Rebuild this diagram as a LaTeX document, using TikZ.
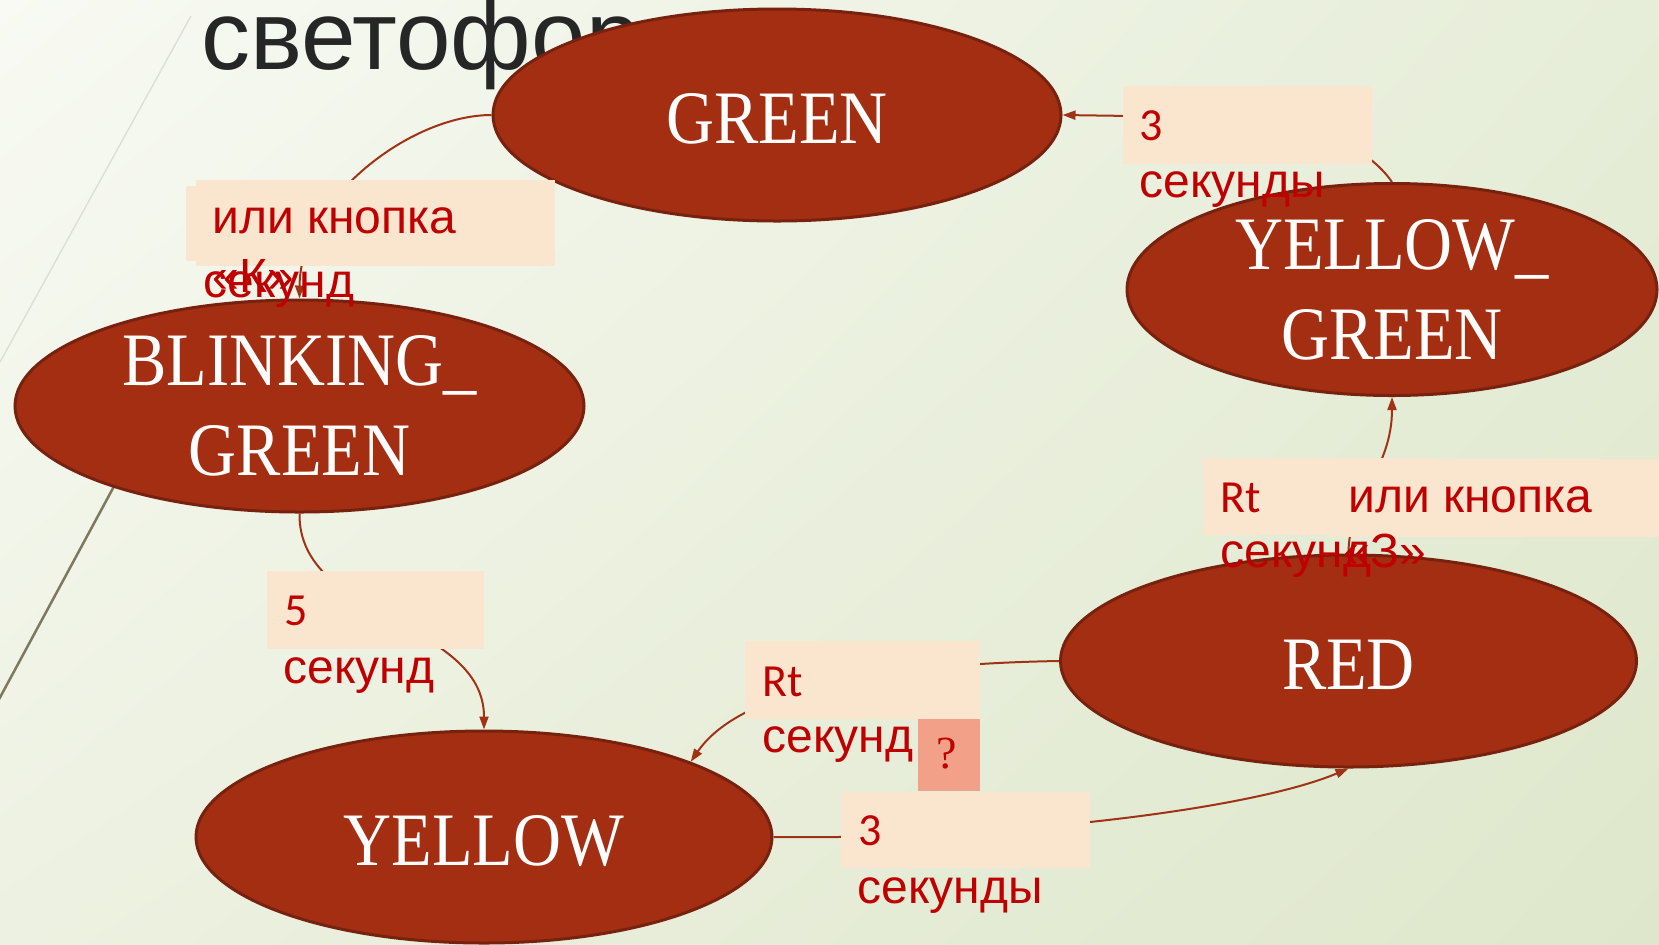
\documentclass[tikz,border=0pt]{standalone}
\usepackage{fontspec}
\setmainfont{Liberation Sans}
\newfontfamily\cyrfont{Liberation Sans}
\newfontfamily\latfont{Carlito}
\newfontfamily\statefont[FakeStretch=0.88]{Liberation Serif}
\newfontfamily\qfont{Liberation Serif}
\usetikzlibrary{arrows.meta,shapes.geometric,shadings}

\definecolor{bgUL}{RGB}{248,250,243}
\definecolor{bgUR}{RGB}{230,237,216}
\definecolor{bgLL}{RGB}{237,241,225}
\definecolor{bgLR}{RGB}{222,231,203}
\definecolor{statefill}{RGB}{164,46,17}
\definecolor{stateedge}{RGB}{118,34,14}
\definecolor{conncol}{RGB}{160,50,22}
\definecolor{lblfill}{RGB}{250,230,207}
\definecolor{qfill}{RGB}{243,160,137}
\definecolor{lbltext}{RGB}{192,0,0}
\definecolor{titlecol}{RGB}{38,38,38}
\definecolor{arcA}{RGB}{222,223,212}
\definecolor{arcB}{RGB}{125,120,96}

\tikzset{
  state/.style={ellipse, draw=stateedge, line width=1.5pt, fill=statefill,
    text=white, inner sep=0pt, align=center,
    font=\statefont\fontsize{37.75}{45}\selectfont},
  oneline/.style={text height=28pt, text depth=0pt},
  conn/.style={draw=conncol, line width=1pt,
    -{Triangle[length=6.5pt,width=4.5pt]}},
  lbox/.style={rectangle, fill=lblfill, inner sep=0pt, outer sep=0pt,
    anchor=north west},
  qbox/.style={lbox, fill=qfill},
  lt/.style={anchor=base west, inner sep=0pt, text=lbltext},
  cyr/.style={lt, font=\cyrfont\fontsize{24}{28}\selectfont},
  lat/.style={lt, font=\latfont\fontsize{23}{28}\selectfont},
}

\begin{document}
\begin{tikzpicture}[x=0.5pt,y=-0.5pt]
% page background
\useasboundingbox (0,0) rectangle (1659,944);
\shade[upper left=bgUL, upper right=bgUR, lower left=bgLL, lower right=bgLR]
  (0,0) rectangle (1659,944);

% decorative sweeps on the left
\draw[arcA, line width=0.7pt] (191,16) -- (0,362);
\draw[arcB, line width=1.25pt] (166,390) -- (-3,703);

% heading
\node[anchor=base west, inner sep=0pt, text=titlecol,
  font=\cyrfont\fontsize{49}{55}\selectfont] (title) at (201,69) {светофор};

% states
\node[state, oneline, minimum width=284pt, minimum height=106pt] (green) at (777,115) {GREEN};
\node[state, minimum width=265pt, minimum height=106pt] (yg) at (1392,289.5) {YELLOW\_\\GREEN};
\node[state, minimum width=284.5pt, minimum height=106pt] (bg) at (299.5,406) {BLINKING\_\\GREEN};
\node[state, oneline, minimum width=288pt, minimum height=106pt] (red) at (1348.5,661) {RED};
\node[state, oneline, minimum width=288pt, minimum height=106pt] (yellow) at (484,837) {YELLOW};

% transitions
\draw[conn] (green.west) .. controls (410,115) and (300,200) .. (bg.north);
\draw[conn] (yg.north) .. controls (1380,165) and (1340,117) .. (1200,117) -- (green.east);
\draw[conn] (red.north) .. controls (1348,500) and (1392,470) .. (yg.south);
\draw[conn] (bg.south) .. controls (298,620) and (484,620) .. (yellow.north);
\draw[conn] (red.west) .. controls (880,664) and (740,690) .. (yellow.20);
\draw[conn] (yellow.east) .. controls (1000,840) and (1250,810) .. (red.south);

% label backgrounds
\node[lbox, minimum width=167pt, minimum height=37.5pt] (boxAback) at (186,186) {};
\node[lbox, minimum width=179.5pt, minimum height=43pt] (boxA) at (196,180) {};
\node[lbox, minimum width=124.5pt, minimum height=39pt] (boxB) at (1123,86) {};
\node[lbox, minimum width=117pt, minimum height=38.5pt] (boxC1) at (1203,458) {};
\node[lbox, minimum width=165pt, minimum height=39pt] (boxC2) at (1331,459) {};
\node[lbox, minimum width=108.5pt, minimum height=39pt] (boxD) at (267,571) {};
\node[lbox, minimum width=117.5pt, minimum height=39pt] (boxE) at (745,641) {};
\node[qbox, minimum width=31pt, minimum height=36pt] (boxQ) at (918,719) {};
\node[lbox, minimum width=124.5pt, minimum height=38pt] (boxF) at (841,792) {};

% label texts
\node[cyr] (tA1) at (212,233) {или кнопка};
\node[cyr] (tA2) at (203,297) {секунд};
\node[cyr] (tA3) at (212,292) {«К»};

\node[lat] (tB1) at (1139,140) {3};
\node[cyr] (tB2) at (1139,197) {секунды};

\node[lat] (tC1) at (1220,512) {Rt};
\node[cyr] (tC2) at (1348,512) {или кнопка};
\node[cyr] (tC3) at (1220,567) {секунд};
\node[cyr] (tC4) at (1343,567) {«З»};

\node[lat] (tD1) at (284,625) {5};
\node[cyr] (tD2) at (283,683) {секунд};

\node[lat] (tE1) at (762,696) {Rt};
\node[cyr] (tE2) at (762,752) {секунд};

\node[anchor=base, inner sep=0pt, text=lbltext,
  font=\qfont\fontsize{23}{28}\selectfont] (tQ) at (947,768) {?};

\node[lat] (tF1) at (858,845) {3};
\node[cyr] (tF2) at (857,903) {секунды};
\end{tikzpicture}
\end{document}
